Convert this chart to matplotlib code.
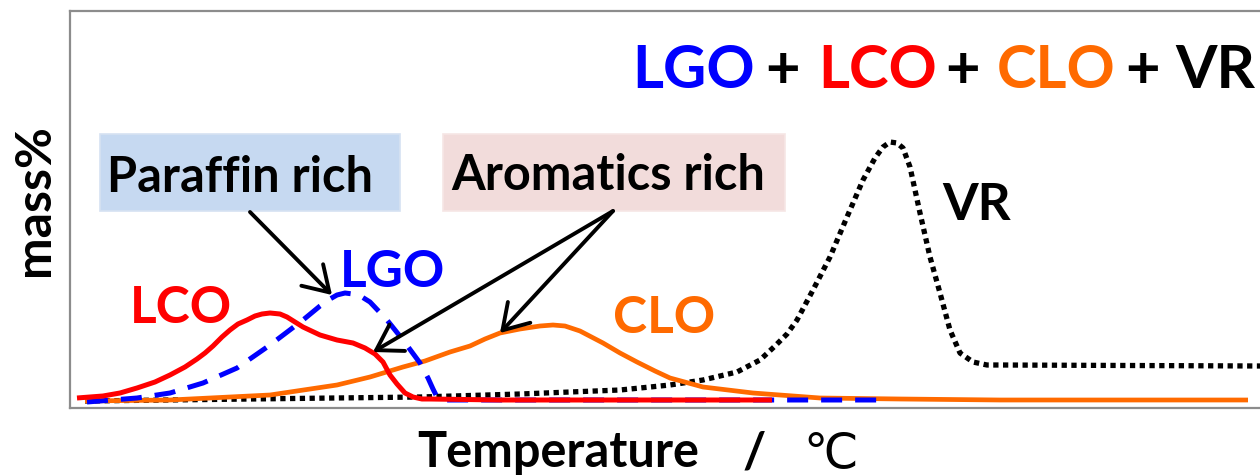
import matplotlib
matplotlib.use("Agg")
import matplotlib.pyplot as plt
from matplotlib.patches import Rectangle, FancyArrowPatch

plt.rcParams['font.family'] = ['Lato', 'DejaVu Sans']

W, H = 1260, 476

# ---- data (temperature index, mass%) ----
lco_x = [77, 103, 120, 137, 155, 170, 185, 197, 205, 213, 222, 230, 238, 247, 255, 262, 270, 280, 287, 295, 303, 320, 337, 353, 365, 375, 383, 390, 397, 405, 413, 422, 430, 500, 600, 700, 772]
lco_y = [10, 12, 15, 20, 26, 33, 41, 49, 55, 62, 71, 78, 84, 88, 92, 94, 95, 94, 91, 86, 81, 73, 68, 65, 60, 54, 46, 33, 24, 15, 11, 9, 9, 8, 8, 8, 8]

lgo_x = [87, 137, 170, 203, 237, 270, 303, 320, 330, 337, 345, 353, 362, 370, 387, 403, 420, 428, 433, 437, 445, 600, 700, 880]
lgo_y = [6, 10, 15, 25, 40, 63, 88, 102, 109, 113, 115, 114, 111, 106, 88, 68, 45, 30, 19, 11, 8, 8, 8, 8]

clo_x = [85, 170, 270, 337, 370, 403, 425, 450, 470, 485, 500, 520, 540, 553, 565, 580, 603, 620, 637, 655, 670, 703, 753, 820, 900, 1000, 1248]
clo_y = [7, 8, 13, 23, 31, 41, 47, 56, 62, 69, 75, 79, 82, 83, 82, 77, 65, 55, 46, 37, 30, 21, 15, 10, 9, 8, 8]

vr_x = [85, 250, 420, 520, 620, 670, 703, 737, 760, 775, 787, 797, 813, 830, 847, 863, 875, 883, 890, 897, 903, 910, 920, 930, 940, 950, 960, 973, 987, 1000, 1260]
vr_y = [7, 9, 11, 14, 18, 23, 28, 36, 48, 62, 74, 88, 118, 151, 191, 228, 250, 261, 266, 265, 260, 241, 195, 151, 115, 78, 55, 46, 43, 43, 42]

BLUE = '#0000ff'
RED = '#ff0000'
ORANGE = '#ff6a00'

fig = plt.figure(figsize=(W / 100, H / 100), dpi=100)
ax = fig.add_axes([70 / W, (H - 408) / H, (W - 70) / W, (408 - 11) / H])
ax.set_xlim(70, 1260)
ax.set_ylim(0, 397)
ax.set_xticks([])
ax.set_yticks([])
for s in ['left', 'top', 'bottom']:
    ax.spines[s].set_color('#8c8c8c')
    ax.spines[s].set_linewidth(1.6)
ax.spines['right'].set_visible(False)

# curves
ax.plot(vr_x, vr_y, color='black', lw=3.8, linestyle=(0, (1.0, 0.85)),
        dash_capstyle='butt', zorder=2)
ax.plot(clo_x, clo_y, color=ORANGE, lw=3.4, solid_capstyle='butt',
        solid_joinstyle='round', zorder=3)
ax.plot(lgo_x, lgo_y, color=BLUE, lw=3.6, linestyle=(0, (4.2, 2.6)),
        dash_capstyle='butt', zorder=4)
ax.plot(lco_x, lco_y, color=RED, lw=3.6, solid_capstyle='butt',
        solid_joinstyle='round', zorder=5)

# boxes
ax.add_patch(Rectangle((100, 197), 300, 77, facecolor='#c6d9f1',
                       edgecolor='#d6e2f2', lw=1.2, zorder=1))
ax.add_patch(Rectangle((443, 197), 342, 77, facecolor='#f2dcdb',
                       edgecolor='#f6e6e5', lw=1.2, zorder=1))
ax.text(107, 216, 'Paraffin rich', fontsize=35, fontweight='bold',
        color='black', ha='left', va='baseline', zorder=6)
ax.text(451, 218, 'Aromatics rich', fontsize=35, fontweight='bold',
        color='black', ha='left', va='baseline', zorder=6)

# arrows
def arrow(p0, p1):
    a = FancyArrowPatch(p0, p1, arrowstyle='->,head_length=0.8,head_width=0.5',
                        mutation_scale=22, lw=2.8, color='black',
                        shrinkA=0, shrinkB=0, zorder=7)
    ax.add_patch(a)

arrow((250, 196), (332, 113))
arrow((613, 197), (373, 56))
arrow((613, 197), (500, 75))

# curve labels
ax.text(130, 85, 'LCO', fontsize=37, fontweight='bold', color=RED,
        ha='left', va='baseline', zorder=6)
ax.text(340, 121, 'LGO', fontsize=37, fontweight='bold', color=BLUE,
        ha='left', va='baseline', zorder=6)
ax.text(613, 75, 'CLO', fontsize=37, fontweight='bold', color=ORANGE,
        ha='left', va='baseline', zorder=6)
ax.text(942, 188, 'VR', fontsize=37, fontweight='bold', color='black',
        ha='left', va='baseline', zorder=6)

# title pieces
title_parts = [('LGO', BLUE, 632), ('+', 'black', 765), ('LCO', RED, 818),
               ('+', 'black', 945), ('CLO', ORANGE, 997), ('+', 'black', 1125),
               ('VR', 'black', 1175)]
for txt, col, px in title_parts:
    ax.text(px, 408 - 88, txt, fontsize=43, fontweight='bold', color=col,
            ha='left', va='baseline', zorder=6)

# axis labels (figure pixel coords)
def F(px, py):
    return px / W, 1 - py / H

fig.text(*F(34, 200), 'mass%', fontsize=36, fontweight='bold', rotation=90,
         ha='center', va='center')
fig.text(*F(417, 467), 'Temperature', fontsize=35, fontweight='bold',
         ha='left', va='baseline')
fig.text(*F(754, 467), '/', fontsize=36, fontweight='bold',
         ha='center', va='baseline')
fig.text(*F(803, 467), '℃', fontsize=35, family=['DejaVu Sans'],
         ha='left', va='baseline')

fig.savefig('out.png', dpi=100)
